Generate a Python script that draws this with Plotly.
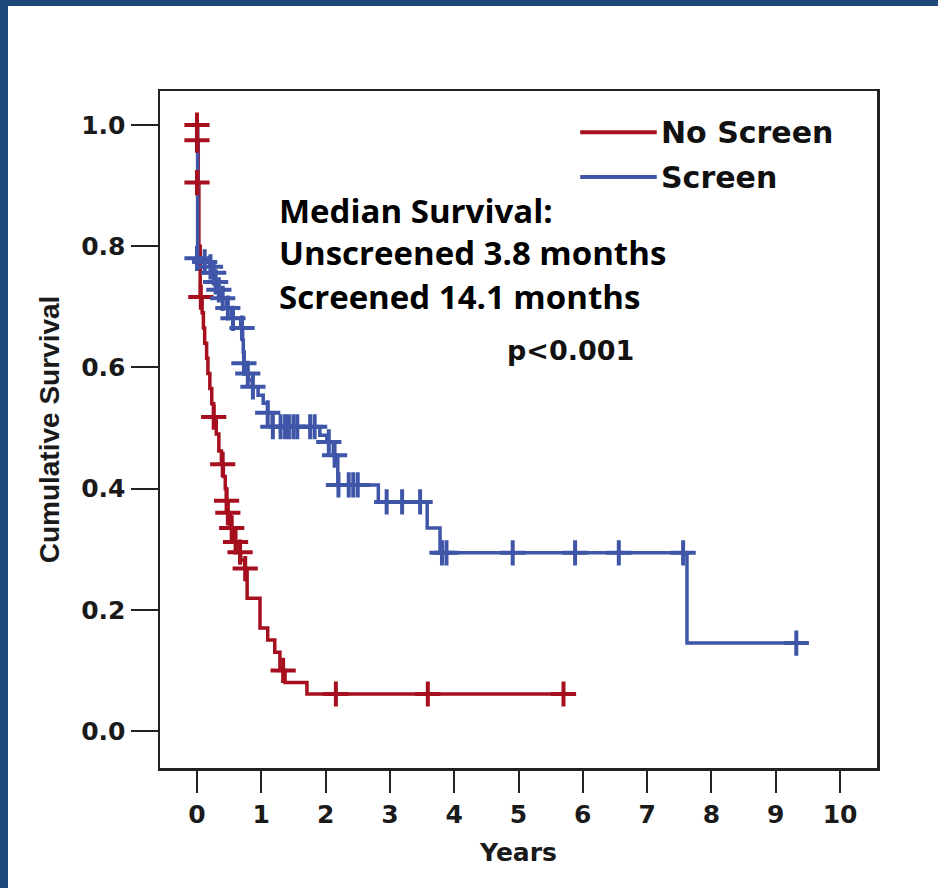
import plotly.graph_objects as go

# ---------------- data ----------------
# Kaplan-Meier step points (time in years, cumulative survival)
no_screen_t = [0.00, 0.01, 0.02, 0.03, 0.05, 0.08, 0.10, 0.12, 0.15, 0.17, 0.20, 0.23, 0.26,
               0.30, 0.34, 0.38, 0.41, 0.44, 0.46, 0.48, 0.52, 0.56, 0.62, 0.68, 0.74, 0.78,
               0.98, 1.10, 1.21, 1.29, 1.37, 1.71, 5.70]
no_screen_s = [1.000, 0.975, 0.905, 0.800, 0.716, 0.690, 0.665, 0.640, 0.615, 0.590, 0.565, 0.540, 0.518,
               0.490, 0.462, 0.440, 0.420, 0.400, 0.380, 0.360, 0.335, 0.312, 0.295, 0.282, 0.268, 0.219,
               0.170, 0.150, 0.130, 0.100, 0.080, 0.061, 0.061]
no_screen_cens_t = [0.00, 0.00, 0.00, 0.06, 0.26, 0.40, 0.46, 0.48, 0.54, 0.60, 0.67, 0.75, 1.34, 2.16, 3.59, 5.70]
no_screen_cens_s = [1.000, 0.975, 0.905, 0.716, 0.518, 0.440, 0.380, 0.360, 0.335, 0.312, 0.295, 0.268, 0.100, 0.061, 0.061, 0.061]

screen_t = [0.00, 0.01, 0.10, 0.20, 0.25, 0.28, 0.32, 0.38, 0.46, 0.54, 0.68, 0.71, 0.72, 0.73,
            0.76, 0.80, 0.86, 0.95, 1.03, 1.10, 1.17, 1.91, 2.02, 2.12, 2.19, 2.82, 3.58, 3.78, 7.62, 9.32]
screen_s = [1.000, 0.780, 0.774, 0.766, 0.756, 0.741, 0.728, 0.714, 0.698, 0.681, 0.665, 0.645, 0.625, 0.607,
            0.590, 0.579, 0.568, 0.554, 0.541, 0.525, 0.502, 0.488, 0.477, 0.455, 0.406, 0.378, 0.335, 0.294, 0.145, 0.145]
screen_cens_t = [0.00, 0.12, 0.21, 0.26, 0.29, 0.34, 0.40, 0.48, 0.56, 0.70, 0.73, 0.79, 0.87, 1.10, 1.18,
                 1.30, 1.37, 1.43, 1.50, 1.56, 1.76, 1.83, 2.05, 2.14, 2.20, 2.36, 2.43, 2.50, 2.95, 3.19,
                 3.47, 3.81, 3.88, 4.91, 5.88, 6.56, 7.56, 9.32]
screen_cens_s = [0.780, 0.774, 0.766, 0.756, 0.741, 0.728, 0.714, 0.698, 0.681, 0.665, 0.607, 0.590, 0.568, 0.525, 0.502,
                 0.502, 0.502, 0.502, 0.502, 0.502, 0.502, 0.502, 0.477, 0.455, 0.406, 0.406, 0.406, 0.406, 0.378, 0.378,
                 0.378, 0.294, 0.294, 0.294, 0.294, 0.294, 0.294, 0.145]

x_ticks = [0, 1, 2, 3, 4, 5, 6, 7, 8, 9, 10]
y_ticks = [0.0, 0.2, 0.4, 0.6, 0.8, 1.0]
series_names = ["No Screen", "Screen"]
annotation_lines = ["Median Survival:", "Unscreened 3.8 months", "Screened 14.1 months"]
p_text = "p<0.001"

# ---------------- style ----------------
RED = "#A6101E"
BLUE = "#3F55A8"
FRAME_BLUE = "#1F497D"
TICK_FONT = dict(family="DejaVu Sans", size=25, color="#1a1a1a", weight="bold")

fig = go.Figure()

fig.add_trace(go.Scatter(x=no_screen_t, y=no_screen_s, mode="lines", line_shape="hv",
                         line=dict(color=RED, width=3.5), name=series_names[0], showlegend=False))
fig.add_trace(go.Scatter(x=screen_t, y=screen_s, mode="lines", line_shape="hv",
                         line=dict(color=BLUE, width=3.5), name=series_names[1], showlegend=False))
fig.add_trace(go.Scatter(x=no_screen_cens_t, y=no_screen_cens_s, mode="markers",
                         marker=dict(symbol="cross-thin", size=18, line=dict(color=RED, width=4)),
                         showlegend=False))
fig.add_trace(go.Scatter(x=screen_cens_t, y=screen_cens_s, mode="markers",
                         marker=dict(symbol="cross-thin", size=18, line=dict(color=BLUE, width=4)),
                         showlegend=False))

# legend (drawn manually to mimic the long SPSS legend lines)
legend_y = [0.988, 0.914]
for name, col, ly in zip(series_names, [RED, BLUE], legend_y):
    fig.add_shape(type="line", xref="x", yref="y", x0=5.96, x1=7.15, y0=ly, y1=ly,
                  line=dict(color=col, width=4))
    fig.add_annotation(x=7.18, y=ly, xref="x", yref="y", text=name, showarrow=False,
                       xanchor="left", yanchor="middle",
                       font=dict(family="DejaVu Sans", size=30, color="#111", weight="bold"))

# median survival text
for txt, yy in zip(annotation_lines, [0.8597, 0.7888, 0.7162]):
    fig.add_annotation(x=1.244, y=yy, xref="x", yref="y", text=txt,
                       showarrow=False, xanchor="left", yanchor="middle",
                       font=dict(family="Open Sans", size=33, color="#000", weight=700))
fig.add_annotation(x=4.79, y=0.6287, xref="x", yref="y", text=p_text, showarrow=False,
                   xanchor="left", yanchor="middle",
                   font=dict(family="DejaVu Sans", size=27, color="#111", weight="bold"))

# dark blue slide border (top and left)
fig.add_shape(type="rect", xref="paper", yref="paper", x0=-0.2232, x1=-0.212, y0=-0.2, y1=1.14,
              fillcolor=FRAME_BLUE, line_width=0, layer="above")
fig.add_shape(type="rect", xref="paper", yref="paper", x0=-0.2232, x1=1.09, y0=1.1256, y1=1.14,
              fillcolor=FRAME_BLUE, line_width=0, layer="above")

fig.update_xaxes(range=[-0.575, 10.575], tickvals=x_ticks, ticktext=[str(v) for v in x_ticks],
                 ticks="outside", ticklen=22, tickwidth=2, tickcolor="#222",
                 showline=True, linecolor="#222", linewidth=2.5, mirror=True,
                 showgrid=False, zeroline=False, tickfont=TICK_FONT,
                 title=dict(text="Years",
                            font=dict(family="DejaVu Sans", size=25, color="#1a1a1a", weight="bold"),
                            standoff=16))
fig.update_yaxes(range=[-0.0611, 1.0561], tickvals=y_ticks, ticktext=[f"{v:.1f}" for v in y_ticks],
                 ticks="outside", ticklen=27, tickwidth=2, tickcolor="#222",
                 showline=True, linecolor="#222", linewidth=2.5, mirror=True,
                 showgrid=False, zeroline=False, tickfont=TICK_FONT,
                 title=dict(text="Cumulative Survival",
                            font=dict(family="Liberation Sans", size=28, color="#1a1a1a", weight="bold"),
                            standoff=14))

fig.update_layout(width=938, height=888, margin=dict(l=160, r=61, t=91, b=120),
                  paper_bgcolor="white", plot_bgcolor="white", showlegend=False, hovermode=False)

fig.write_html("out.html", config={"displayModeBar": False, "staticPlot": True},
               post_script="document.body.style.margin='0';document.body.style.padding='0';")
